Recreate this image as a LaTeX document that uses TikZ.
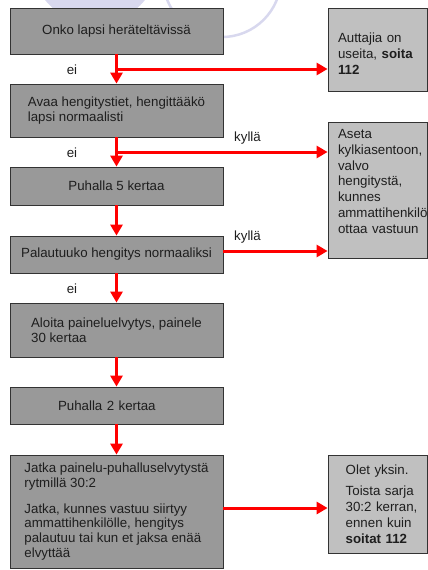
\documentclass[tikz,border=0pt]{standalone}
\usepackage{fontspec}
\setmainfont{Liberation Sans}
\usetikzlibrary{arrows.meta}
\definecolor{boxgray}{RGB}{153,153,153}
\definecolor{lightbox}{RGB}{192,192,192}
\definecolor{wmark}{RGB}{216,216,238}
\definecolor{textgray}{RGB}{30,30,30}
\hyphenpenalty=10000
\exhyphenpenalty=10000

\begin{document}
\begin{tikzpicture} [x = 1pt, y = -1pt,
		lbox/.style = {draw = black!80, fill = boxgray, line width = 0.8pt, minimum width = 213pt, inner sep = 0pt, align = left, font = \fontsize{13.3}{14.7}\selectfont, text = textgray},
		rbox/.style = {draw = black!80, fill = lightbox, line width = 0.8pt, minimum width = 99pt, text width = 79pt, inner xsep = 10pt, inner ysep = 0pt, align = left, font = \fontsize{13.3}{15.8}\selectfont, text = textgray},
		flow/.style = {draw = red, line width = 3pt, -{Triangle[width = 12pt, length = 11pt]}},
		lbl/.style = {font = \fontsize{13.3}{15}\selectfont, text = textgray}]
	\useasboundingbox (0,0) rectangle (428,570);
	\fill [wmark] (95,-40) circle [radius = 64pt];
	\draw [wmark, line width = 2.5pt] (222,-22) circle [radius = 59pt];
	
	\node [lbox, minimum height = 46pt] (onko) at (116.5,31) {Onko lapsi heräteltävissä};
	\node [lbox, minimum height = 53pt] (avaa) at (116.5,110.5) {Avaa hengitystiet, hengittääkö\\ lapsi normaalisti};
	\node [lbox, minimum height = 38pt] (puh5) at (116.5,186) {Puhalla 5 kertaa};
	\node [lbox, minimum height = 37pt] (palaut) at (116.5,254.5) {Palautuuko hengitys normaaliksi};
	\node [lbox, minimum height = 54pt] (aloita) at (116.5,330) {Aloita paineluelvytys, painele\\ 30 kertaa};
	\node [lbox, minimum height = 37pt, inner xsep = 48pt, text width = 117pt] (puh2) at (116.5,405.5) {Puhalla 2 kertaa};
	\node [lbox, minimum height = 113pt] (jatka) at (116.5,511.5) {Jatka painelu-puhalluselvytystä\\ rytmillä 30:2\\[11pt] Jatka, kunnes vastuu siirtyy\\ ammattihenkilölle, hengitys\\ palautuu tai kun et jaksa enää\\ elvyttää};
	
	\node [rbox, minimum height = 83pt, text height = 17.5pt] (auttajia) at (377.5,49.5) {Auttajia~on\\ useita,~\textbf{soita}\\ \textbf{112}};
	\node [rbox, minimum height = 136pt, text depth = 112pt] (aseta) at (377.5,190) {Aseta\\ kylkiasentoon,\\ valvo\\ hengitystä,\\ kunnes\\ ammattihenkilö\\ ottaa~vastuun};
	\node [rbox, minimum height = 98pt, inner xsep = 17.7pt, text width = 63.6pt] (olet) at (377.5,504) {Olet~yksin.\\[6pt] Toista~sarja\\ 30:2~kerran,\\ ennen~kuin\\ \textbf{soitat~112}};
	
	\coordinate (split1) at (116.5,69);
	\coordinate (split2) at (116.5,152);
	\coordinate (side2) at ([yshift = 3.5pt]palaut.east);
	\coordinate (side3) at ([yshift = 3.5pt]jatka.east);
	
	\draw [flow] (onko) -- (avaa);
	\draw [flow] (avaa) -- (puh5);
	\draw [flow] (puh5) -- (palaut);
	\draw [flow] (palaut) -- (aloita);
	\draw [flow] (aloita) -- (puh2);
	\draw [flow] (puh2) -- (jatka);
	
	\draw [flow] (split1) -- (split1 -| auttajia.west);
	\draw [flow] (split2) -- (split2 -| aseta.west);
	\draw [flow] (side2) -- (side2 -| aseta.west);
	\draw [flow] (side3) -- (side3 -| olet.west);
	
	\node [lbl] (ei1) at (72,70) {ei};
	\node [lbl] (ei2) at (72,153) {ei};
	\node [lbl] (ei3) at (72,289) {ei};
	\node [lbl] (kylla1) at (247.5,138) {kyllä};
	\node [lbl] (kylla2) at (247.5,237) {kyllä};
\end{tikzpicture}
\end{document}
